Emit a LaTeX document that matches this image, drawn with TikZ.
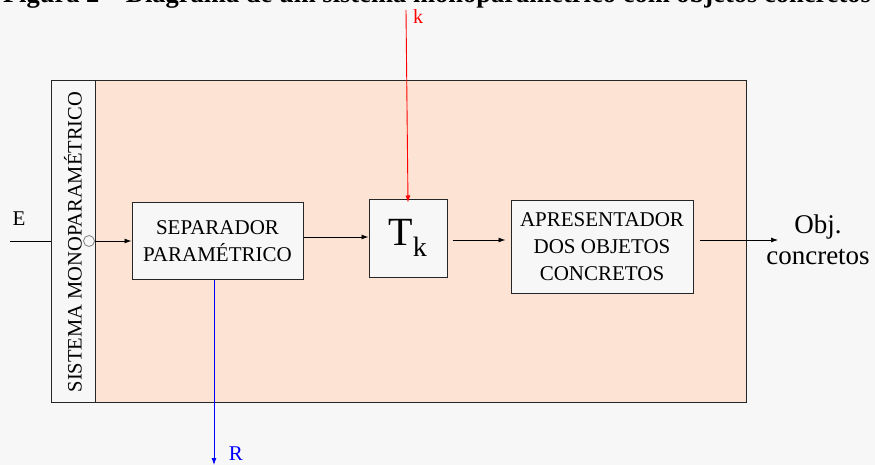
\documentclass[tikz,border=0pt]{standalone}
\usepackage{fontspec}
\setmainfont{Liberation Serif}
\usetikzlibrary{arrows.meta}
\definecolor{peach}{HTML}{FDE3D4}
\definecolor{boxgrey}{HTML}{F7F7F7}
\begin{document}
\begin{tikzpicture}[x=1pt,y=-1pt,
  blk/.style={draw=black!85,line width=1pt,fill=boxgrey,inner sep=0pt},
  arr/.style={-{Latex[length=7pt,width=5pt]},line width=0.9pt},
  txt/.style={font=\fontsize{21}{27}\selectfont,align=center}]
\useasboundingbox (0,0) rectangle (875,465);
\fill[white!97!black] (0,0) rectangle (875,465);
\begin{scope}
\clip (0,0) rectangle (875,465);
\node[font=\fontsize{26.5}{30}\selectfont\bfseries,anchor=base] (title) at (437,3) {Figura 2 -- Diagrama de um sistema monoparamétrico com objetos concretos};
\end{scope}
% main boxes
\node[blk,fill=peach,minimum width=651pt,minimum height=322pt,anchor=north west] (main) at (95,80) {};
\node[blk,minimum width=44pt,minimum height=322pt,anchor=north west] (side) at (51,80) {};
\node[font=\fontsize{20.5}{24}\selectfont,rotate=90] (sidetxt) at (73,242) {SISTEMA MONOPARAMÉTRICO};
\node[txt,blk,minimum width=171pt,minimum height=76pt] (sep) at (217.5,241) {SEPARADOR\\PARAMÉTRICO};
\node[blk,minimum width=78pt,minimum height=77pt] (tk) at (408,238.5) {};
\node[font=\fontsize{40}{40}\selectfont] (tklabel) at (408,238) {T$_{\mathrm{k}}$};
\node[txt,blk,minimum width=182pt,minimum height=92pt] (apr) at (602,247) {APRESENTADOR\\DOS OBJETOS\\CONCRETOS};
% circle
\node[draw=black!50,circle,minimum size=11pt,inner sep=0pt,line width=0.8pt] (circ) at (89,241) {};
% E input
\coordinate (ein) at (10,241);
\draw[line width=0.9pt] (ein) -- (side.west |- ein);
\node[font=\fontsize{21}{21}\selectfont] (elabel) at (19,219) {E};
\draw[arr] (circ.east) -- (sep.west |- circ);
% sep -> tk
\draw[arr] (sep.east |- 0,237) -- (tk.west |- 0,237);
% tk -> apr
\draw[arr] ([xshift=5pt]tk.east |- 0,240) -- ([xshift=-5pt]apr.west |- 0,240);
% apr -> obj
\coordinate (objend) at (778,240);
\draw[-{Latex[length=7pt,width=5pt]},line width=0.7pt] ([xshift=6pt]apr.east |- objend) -- (objend);
\node[font=\fontsize{27}{31}\selectfont,align=center] (obj) at (818,240) {Obj.\\concretos};
% k input
\coordinate (kin) at (406,10);
\draw[arr,red] (kin) -- ([yshift=-3pt]tk.north);
\node[red,font=\fontsize{20}{20}\selectfont] (klabel) at (418,17) {k};
% R output
\coordinate (rout) at (214,465);
\draw[arr,blue] (sep.south -| rout) -- (rout);
\node[blue,font=\fontsize{21}{21}\selectfont] (rlabel) at (236,454) {R};
\end{tikzpicture}
\end{document}
